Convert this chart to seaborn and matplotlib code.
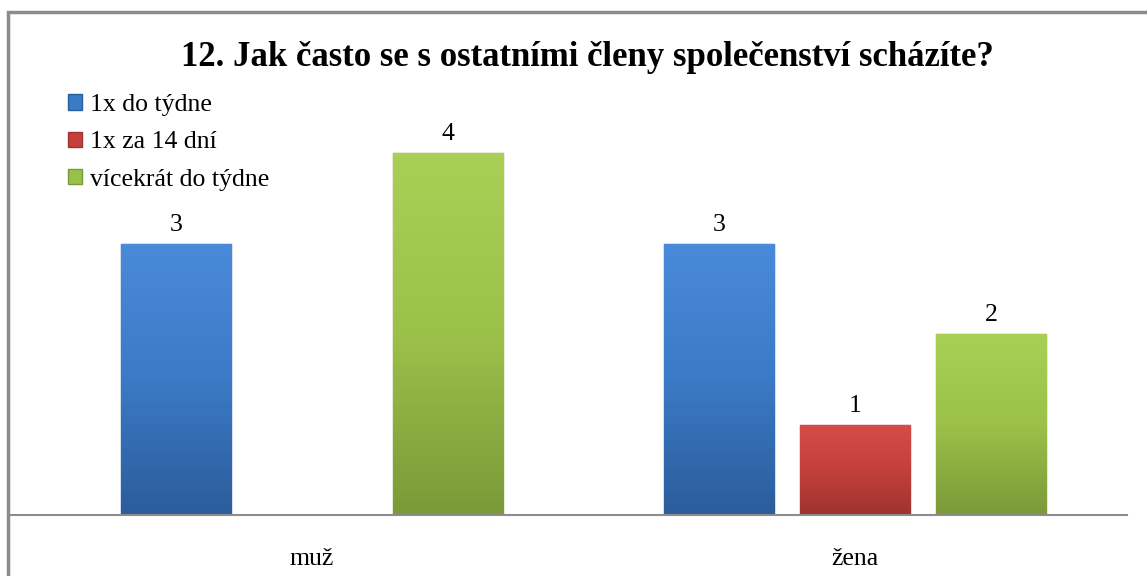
import numpy as np
import pandas as pd
import matplotlib
matplotlib.use("Agg")
import matplotlib.pyplot as plt
import seaborn as sns
from matplotlib.patches import Rectangle, Patch
from matplotlib.colors import LinearSegmentedColormap

categories = ["muž", "žena"]
series = ["1x do týdne", "1x za 14 dní", "vícekrát do týdne"]
values_1x_tyden = [3, 3]
values_14_dni = [0, 1]
values_vicekrat = [4, 2]
title = "12. Jak často se s ostatními členy společenství scházíte?"

colors = ["#3B7AC6", "#C4403C", "#9CC14A"]
dark = ["#2C5D9C", "#9E3330", "#7A9A38"]
light = ["#4A8ADA", "#D64C47", "#A9CF55"]

df = pd.DataFrame({
    "cat": categories * 3,
    "series": [series[0]] * 2 + [series[1]] * 2 + [series[2]] * 2,
    "val": values_1x_tyden + values_14_dni + values_vicekrat,
})

sns.set_theme(style="white")
plt.rcParams["font.family"] = ["Liberation Serif", "DejaVu Serif"]
plt.rcParams["text.color"] = "black"

W, H = 1147, 576
fig = plt.figure(figsize=(W / 100, H / 100), dpi=100)
fig.patch.set_facecolor("white")

ax_left, ax_right, ax_bottom = 10, 1127, 515
unit = 90.5
ymax = 5
ax_top = ax_bottom - ymax * unit
ax = fig.add_axes([ax_left / W, (H - ax_bottom) / H, (ax_right - ax_left) / W, (ax_bottom - ax_top) / H])

sns.barplot(data=df, x="cat", y="val", hue="series", order=categories, hue_order=series,
            palette=colors, width=0.7515, gap=0.188, ax=ax, legend=False, saturation=1,
            errorbar=None)

ax.set_xlim(-0.556, 1.501)
ax.set_ylim(0, ymax)

# gradient fill on bars
for i, cont in enumerate(ax.containers):
    cmap = LinearSegmentedColormap.from_list("g", [dark[i], colors[i], light[i]])
    for bar in cont:
        h = bar.get_height()
        if h <= 0:
            bar.set_visible(False)
            continue
        x0 = bar.get_x()
        w = bar.get_width()
        grad = np.linspace(0, 1, 64).reshape(-1, 1)
        im = ax.imshow(grad, extent=[x0, x0 + w, 0, h], origin="lower", cmap=cmap,
                       aspect="auto", zorder=bar.get_zorder() + 0.1, interpolation="bicubic")
        im.set_clip_path(bar)
        bar.set_edgecolor(dark[i])
        bar.set_linewidth(1.0)
        ax.annotate(f"{h:g}", (x0 + w / 2, h), xytext=(0, 5.5), textcoords="offset points",
                    ha="center", va="bottom", fontsize=18.5, color="black")
ax.set_xlim(-0.556, 1.501)
ax.set_ylim(0, ymax)

ax.set_xlabel("")
ax.set_ylabel("")
ax.set_yticks([])
ax.tick_params(axis="x", length=0, pad=24, labelsize=18.5, labelcolor="black")
for s in ["top", "left", "right"]:
    ax.spines[s].set_visible(False)
ax.spines["bottom"].set_color("#8C8C8C")
ax.spines["bottom"].set_linewidth(1.5)
ax.set_facecolor("none")

handles = [Patch(facecolor=colors[i], edgecolor=dark[i], label=series[i]) for i in range(3)]
fig.legend(handles=handles, loc="upper left", bbox_to_anchor=(68 / W, 1 - 94 / H),
           frameon=False, fontsize=18.5, handlelength=0.55, handleheight=0.55,
           handletextpad=0.3, labelspacing=0.6, borderaxespad=0, borderpad=0,
           labelcolor="black")

fig.text(587 / W, 1 - 58 / H, title, ha="center", va="center", fontsize=25, fontweight="bold",
         color="black")

fig.patches.append(Rectangle((8 / W, -0.1), 2, 1 - 12 / H + 0.1, transform=fig.transFigure,
                             fill=False, edgecolor="#8C8C8C", linewidth=2.5, zorder=10))

fig.savefig("out.png", dpi=100, facecolor="white")
